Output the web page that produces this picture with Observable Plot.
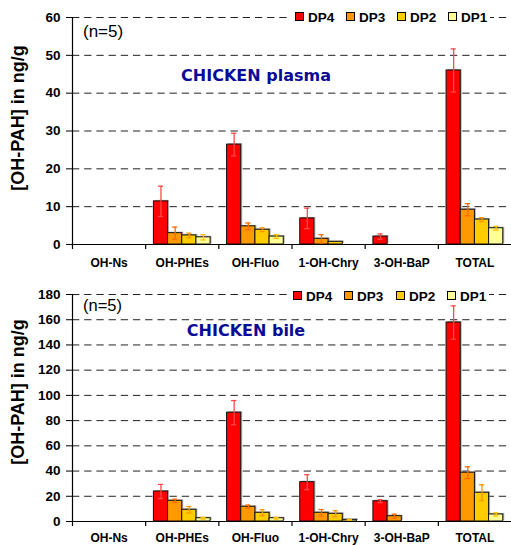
<!DOCTYPE html>
<html><head><meta charset="utf-8">
<script src="https://cdn.jsdelivr.net/npm/d3@7"></script>
<script src="https://cdn.jsdelivr.net/npm/@observablehq/plot@0.6"></script>
<style>
body{margin:0;background:#fff;}
#wrap{position:relative;width:511px;height:545px;overflow:hidden;background:#fff;font-family:"Liberation Sans",Arial,sans-serif;}
.panel{position:absolute;left:0;}
.panel svg{display:block;overflow:visible;}
[aria-label^="fx-axis"] text{font-size:12px;font-weight:bold;}
[aria-label^="y-axis"] text{font-size:13.5px;font-weight:bold;}
.ann{position:absolute;white-space:nowrap;line-height:1;}
</style></head><body><div id="wrap"></div>
<script>
// ---- data ----
const categories = ["OH-Ns", "OH-PHEs", "OH-Fluo", "1-OH-Chry", "3-OH-BaP", "TOTAL"];
const series = ["DP4", "DP3", "DP2", "DP1"];

// CHICKEN plasma (ng/g), mean per category, one array per series
const plasmaDP4 = [0, 11.4, 26.4, 6.9, 2.1, 46.0];
const plasmaDP3 = [0, 3.0, 4.8, 1.5, 0, 9.2];
const plasmaDP2 = [0, 2.4, 3.9, 0.7, 0, 6.6];
const plasmaDP1 = [0, 1.9, 2.1, 0, 0, 4.3];
// error (one SD) for plasma
const plasmaErrDP4 = [0, 4.0, 3.0, 2.7, 0.7, 5.7];
const plasmaErrDP3 = [0, 1.6, 0.9, 1.1, 0, 1.6];
const plasmaErrDP2 = [0, 0.6, 0.5, 0, 0, 0.5];
const plasmaErrDP1 = [0, 0.7, 0.5, 0, 0, 0.5];

// CHICKEN bile (ng/g)
const bileDP4 = [0, 23.8, 86.3, 31.2, 16.1, 157.8];
const bileDP3 = [0, 16.4, 11.7, 6.9, 4.2, 38.7];
const bileDP2 = [0, 9.3, 6.9, 6.1, 0, 22.8];
const bileDP1 = [0, 2.6, 2.6, 1.3, 0, 5.6];
const bileErrDP4 = [0, 5.6, 9.6, 5.9, 1.1, 13.2];
const bileErrDP3 = [0, 1.3, 1.3, 2.6, 1.6, 4.7];
const bileErrDP2 = [0, 2.6, 2.4, 2.4, 0, 6.3];
const bileErrDP1 = [0, 0.7, 0.7, 0.3, 0, 1.3];

const plasmaTicks = [0, 10, 20, 30, 40, 50, 60];
const bileTicks = [0, 20, 40, 60, 80, 100, 120, 140, 160, 180];

const yTitle = "[OH-PAH] in ng/g";
const nLabel = "(n=5)";
const plasmaTitle = "CHICKEN plasma";
const bileTitle = "CHICKEN bile";

// ---- styles ----
const colors = ["#ff0000", "#ff9900", "#ffcc00", "#ffff99"];
const errColors = ["#ff4a4a", "#ff6a00", "#ff9500", "#ffbf00"];

function rowsFrom(vals, errs) {
  const rows = [];
  categories.forEach((c, i) => series.forEach((s, j) =>
    rows.push({cat: c, series: s, v: vals[j][i], e: errs[j][i]})));
  return rows;
}

function chart({rows, yTicks, height, mTop, mBottom, labelPad}) {
  const W = 511, mLeft = 72, mRight = 0;
  const yMax = yTicks[yTicks.length - 1];
  const po = 0.58;
  const facetW = (W - mLeft - mRight) / categories.length;
  const step = facetW / (series.length + 2 * po);
  const edgeDx = -(po * step + step / 2);
  const tickLen = 5 * yMax / (height - mTop - mBottom);
  const period = facetW / 6;
  const marks = [
    Plot.ruleY(yTicks.filter(t => t > 0), {stroke: "#222", strokeWidth: 1, strokeDasharray: `${(period * 0.6).toFixed(3)},${(period * 0.4).toFixed(3)}`}),
    Plot.barY(rows, {filter: d => d.v > 0, x: "series", y: "v", fill: "#777", fillOpacity: 0.55, dx: 1.5, dy: -1}),
    Plot.barY(rows, {filter: d => d.v > 0, x: "series", y: "v", fill: "series", stroke: "#111", strokeWidth: 1})
  ];
  series.forEach((s, j) => {
    const f = d => d.series === s && d.v > 0 && d.e > 0;
    marks.push(
      Plot.ruleX(rows, {filter: f, x: "series", y1: d => Math.max(0, d.v - d.e), y2: d => d.v + d.e, stroke: errColors[j], strokeWidth: 1.3}),
      Plot.tickY(rows, {filter: f, x: "series", y: d => d.v + d.e, stroke: errColors[j], strokeWidth: 1.3, insetLeft: 4.5, insetRight: 4.5}),
      Plot.tickY(rows, {filter: f, x: "series", y: d => Math.max(0, d.v - d.e), stroke: errColors[j], strokeWidth: 1.3, insetLeft: 4.5, insetRight: 4.5})
    );
  });
  marks.push(
    Plot.ruleY([0], {stroke: "#000", strokeWidth: 1.2}),
    // category boundary ticks below the axis
    Plot.ruleX(rows, {filter: d => d.series === series[0], x: "series", y1: 0, y2: -tickLen, dx: edgeDx, stroke: "#000", strokeWidth: 1.2}),
    // y axis line
    Plot.ruleX(rows, {filter: d => d.series === series[0] && d.cat === categories[0], x: "series", y1: 0, y2: yMax, dx: edgeDx, stroke: "#000", strokeWidth: 1.2})
  );
  return Plot.plot({
    width: W, height,
    marginLeft: mLeft, marginRight: mRight, marginTop: mTop, marginBottom: mBottom,
    style: {fontFamily: "'Liberation Sans', Arial, sans-serif", fontWeight: "bold", fontSize: "13px", color: "#000", background: "transparent", overflow: "visible"},
    facet: {data: rows, x: "cat", marginBottom: mBottom, marginTop: mTop, marginLeft: mLeft, marginRight: mRight},
    fx: {domain: categories, padding: 0, round: false, axis: "bottom", tickSize: 0, tickPadding: labelPad, label: null},
    x: {domain: series, paddingInner: 0, paddingOuter: po, round: false, axis: null},
    y: {domain: [0, yMax], ticks: yTicks, tickSize: 6, tickPadding: 6, label: null, tickFormat: d => String(d)},
    color: {domain: series, range: colors},
    marks
  });
}

const wrap = document.getElementById("wrap");

function addPanel(svg, top) {
  const div = document.createElement("div");
  div.className = "panel";
  div.style.top = top + "px";
  div.appendChild(svg);
  wrap.appendChild(div);
}

function addText(text, css) {
  const d = document.createElement("div");
  d.className = "ann";
  d.textContent = text;
  Object.assign(d.style, css);
  wrap.appendChild(d);
}

function addLegend(left, top, boxW, offsets) {
  const bg = document.createElement("div");
  Object.assign(bg.style, {position: "absolute", left: left + "px", top: top + "px", width: boxW + "px", height: "17px", background: "#fff"});
  wrap.appendChild(bg);
  series.forEach((s, j) => {
    const sq = document.createElement("div");
    Object.assign(sq.style, {position: "absolute", left: (left + offsets[j]) + "px", top: (top + 4) + "px", width: "7px", height: "7px", border: "1px solid #000", background: colors[j]});
    wrap.appendChild(sq);
    addText(s, {left: (left + offsets[j] + 13) + "px", top: (top + 3) + "px", fontSize: "13.5px", fontWeight: "bold", fontFamily: "'Liberation Sans', Arial, sans-serif"});
  });
}

addPanel(chart({rows: rowsFrom([plasmaDP4, plasmaDP3, plasmaDP2, plasmaDP1], [plasmaErrDP4, plasmaErrDP3, plasmaErrDP2, plasmaErrDP1]),
  yTicks: plasmaTicks, height: 272, mTop: 17, mBottom: 28, labelPad: 14}), 0);
addPanel(chart({rows: rowsFrom([bileDP4, bileDP3, bileDP2, bileDP1], [bileErrDP4, bileErrDP3, bileErrDP2, bileErrDP1]),
  yTicks: bileTicks, height: 273, mTop: 22, mBottom: 24, labelPad: 12}), 272);

// y titles
[[117.5], [391.5]].forEach(([cy]) => addText(yTitle, {left: "18px", top: cy + "px", transform: "translate(-50%,-50%) rotate(-90deg)", fontSize: "18px", fontWeight: "bold", fontFamily: "'Liberation Sans', Arial, sans-serif"}));

// (n=5)
addText(nLabel, {left: "83px", top: "23px", fontSize: "17px", fontFamily: "'Liberation Sans', Arial, sans-serif"});
addText(nLabel, {left: "83px", top: "297px", fontSize: "16.5px", fontFamily: "'Liberation Sans', Arial, sans-serif"});

// panel titles
const titleCss = {fontSize: "16px", fontWeight: "bold", color: "#0a0a96", fontFamily: "'Comic Sans MS', 'DejaVu Sans', sans-serif", transform: "translateX(-50%)"};
addText(plasmaTitle, Object.assign({left: "256px", top: "68px"}, titleCss));
addText(bileTitle, Object.assign({left: "246px", top: "323px"}, titleCss));

// legends
addLegend(290, 8, 200, [5, 56, 107, 158]);
addLegend(288, 287, 201, [5, 56, 108, 159]);
</script></body></html>
